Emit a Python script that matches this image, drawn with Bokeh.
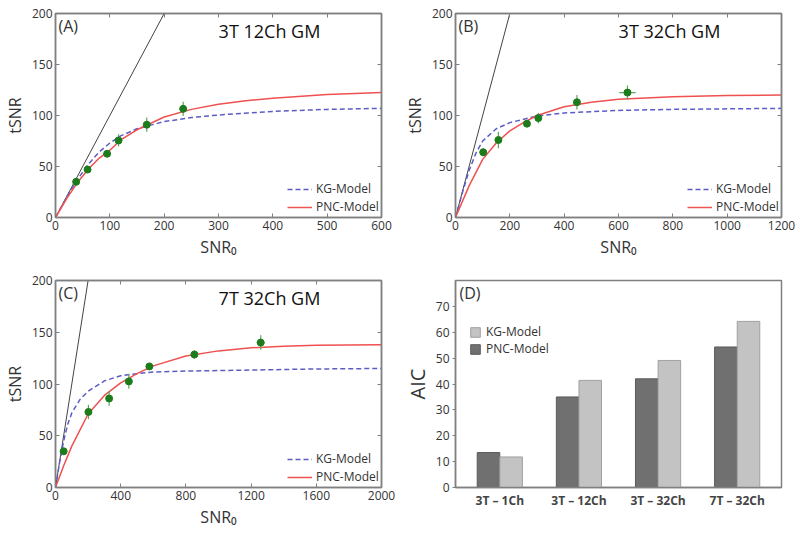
import numpy as np
from bokeh.plotting import figure
from bokeh.layouts import column, row
from bokeh.models import (LinearAxis, FixedTicker, Label, Legend, LegendItem,
                          ColumnDataSource, Range1d, FactorRange, CustomLabelingPolicy)
from bokeh.transform import dodge
from bokeh.embed import file_html
from bokeh.resources import INLINE

FONT = "Open Sans"

# ---------------- data ----------------
ident_x = [0, 200]
ident_y = [0, 200]

# Panel A : 3T 12Ch GM
a_snr0 = [38, 59, 95, 116, 168, 235]
a_tsnr = [35, 47, 62.5, 75.5, 91, 106.5]
a_yerr = [2, 2, 2, 6, 7, 7]
a_xerr = [3, 3, 3, 5, 6, 6]
a_kg_x = [0, 20, 40, 60, 80, 100, 120, 150, 200, 250, 300, 400, 500, 600]
a_kg_y = [0, 19.5, 37, 52, 64, 73, 80, 87, 94, 98, 100.5, 104, 106, 107]
a_pnc_x = [0, 20, 40, 60, 80, 100, 120, 150, 200, 250, 300, 350, 400, 500, 600]
a_pnc_y = [0, 18, 34, 47, 58, 66, 76, 86, 98.5, 106, 111, 114.5, 117, 120.5, 122.5]

# Panel B : 3T 32Ch GM
b_snr0 = [102, 158, 263, 305, 447, 633]
b_tsnr = [64, 76, 92, 97.5, 113, 122.5]
b_yerr = [4, 8, 2, 5, 7, 7]
b_xerr = [8, 8, 6, 8, 10, 30]
b_kg_x = [0, 25, 50, 75, 100, 150, 200, 300, 400, 600, 800, 1000, 1200]
b_kg_y = [0, 24, 46, 63, 75, 87, 93, 99.5, 102.5, 105, 106, 106.5, 107]
b_pnc_x = [0, 50, 100, 150, 200, 250, 300, 400, 500, 600, 800, 1000, 1200]
b_pnc_y = [0, 31, 57, 73, 85, 93, 100, 108.5, 113, 116, 118.5, 119.5, 120]

# Panel C : 7T 32Ch GM
c_snr0 = [50, 202, 329, 450, 576, 852, 1259]
c_tsnr = [35, 73, 86, 102.5, 117, 128.5, 140]
c_yerr = [2, 7, 7, 7, 2, 4, 7]
c_xerr = [10, 20, 15, 15, 20, 20, 25]
c_kg_x = [0, 25, 50, 75, 100, 150, 200, 300, 400, 500, 600, 800, 1200, 1600, 2000]
c_kg_y = [0, 24, 45, 61, 72, 85, 93, 103, 108, 110, 111.5, 112.5, 113.5, 114.5, 115]
c_pnc_x = [0, 50, 100, 200, 300, 400, 500, 600, 800, 1000, 1200, 1400, 1600, 2000]
c_pnc_y = [0, 21, 40, 71, 89, 101, 110, 117.5, 127, 132, 135, 136.5, 137.5, 138]

y_ticks = [0, 50, 100, 150, 200]
a_xticks = [0, 100, 200, 300, 400, 500, 600]
b_xticks = [0, 200, 400, 600, 800, 1000, 1200]
c_xticks = [0, 400, 800, 1200, 1600, 2000]

# Panel D : AIC
d_cats = ["3T \u2013 1Ch", "3T \u2013 12Ch", "3T \u2013 32Ch", "7T \u2013 32Ch"]
d_pnc = [13.5, 35, 42, 54.3]
d_kg = [11.8, 41.4, 49.1, 64.2]
d_yticks = [0, 10, 20, 30, 40, 50, 60, 70]

AXIS_COL = "#808080"
TEXT_COL = "#333333"
KG_COL = "#5c5cc8"
PNC_COL = "#ef5050"
PT_COL = "#1c7c1c"
ERR_COL = "#5aa65a"

NO_LABELS = """
for (const i of indices) { indices.unset(i) }
return indices
"""


def style_axis(ax, show_labels=True):
    ax.axis_line_color = AXIS_COL
    ax.axis_line_width = 1.5
    ax.major_tick_line_color = AXIS_COL
    ax.major_tick_in = 4
    ax.major_tick_out = 0
    ax.minor_tick_line_color = None
    ax.major_label_text_font = FONT
    ax.major_label_text_color = TEXT_COL
    ax.axis_label_text_font = FONT
    ax.axis_label_text_font_style = "normal"
    ax.axis_label_text_color = TEXT_COL
    ax.axis_label_text_font_size = "16px"
    ax.axis_label_standoff = 3
    if show_labels:
        ax.major_label_text_font_size = "12px"
        ax.major_label_standoff = 3
    else:
        ax.major_label_text_font_size = "1px"
        ax.major_label_standoff = 0
        ax.major_label_policy = CustomLabelingPolicy(code=NO_LABELS)


def curve_panel(tag, title, xmax, xticks, xs, ys, yerr, xerr, kgx, kgy, pncx, pncy,
                left, right, top, bottom, height):
    p = figure(width=400, height=height, x_range=Range1d(0, xmax), y_range=Range1d(0, 200),
               output_backend="svg", toolbar_location=None,
               min_border_left=left, min_border_right=right,
               min_border_top=top, min_border_bottom=bottom)
    p.xgrid.grid_line_color = None
    p.ygrid.grid_line_color = None
    p.outline_line_color = AXIS_COL
    p.outline_line_width = 1.5
    p.background_fill_color = "white"

    p.xaxis.ticker = FixedTicker(ticks=xticks)
    p.yaxis.ticker = FixedTicker(ticks=y_ticks)
    p.xaxis.axis_label = "SNR\u2080"
    p.yaxis.axis_label = "tSNR"
    style_axis(p.xaxis[0])
    style_axis(p.yaxis[0])
    ra = LinearAxis(ticker=FixedTicker(ticks=y_ticks))
    ta = LinearAxis(ticker=FixedTicker(ticks=xticks))
    style_axis(ra, False)
    style_axis(ta, False)
    p.add_layout(ra, "right")
    p.add_layout(ta, "above")

    p.line(ident_x, ident_y, color="#444444", line_width=1)
    kg = p.line(kgx, kgy, color=KG_COL, line_width=1.5, line_dash="5 3")
    pnc = p.line(pncx, pncy, color=PNC_COL, line_width=1.5)

    xs_a = np.array(xs, float)
    ys_a = np.array(ys, float)
    ye = np.array(yerr, float)
    xe = np.array(xerr, float)
    p.segment(x0=xs_a, y0=ys_a - ye, x1=xs_a, y1=ys_a + ye, color=ERR_COL, line_width=1.2)
    p.segment(x0=xs_a - xe, y0=ys_a, x1=xs_a + xe, y1=ys_a, color=ERR_COL, line_width=1.2)
    p.scatter(xs_a, ys_a, size=7, color=PT_COL)

    leg = Legend(items=[LegendItem(label="KG-Model", renderers=[kg]),
                        LegendItem(label="PNC-Model", renderers=[pnc])],
                 location=(232, 2))
    leg.border_line_color = None
    leg.background_fill_alpha = 0
    leg.label_text_font = FONT
    leg.label_text_font_size = "12px"
    leg.label_text_color = TEXT_COL
    leg.glyph_width = 25
    leg.glyph_height = 14
    leg.label_height = 14
    leg.label_standoff = 4
    leg.spacing = 1
    leg.padding = 4
    leg.margin = 0
    p.add_layout(leg)

    fh = height - top - bottom
    p.add_layout(Label(x=3, y=fh - 1, x_units="screen", y_units="screen", text=tag,
                       text_font=FONT, text_font_size="16px", text_color=TEXT_COL,
                       text_baseline="top", text_align="left"))
    p.add_layout(Label(x=214, y=fh - 5, x_units="screen", y_units="screen", text=title,
                       text_font=FONT, text_font_size="18px", text_color="#111111",
                       text_baseline="top", text_align="center"))
    return p


pA = curve_panel("(A)", "3T 12Ch GM", 600, a_xticks, a_snr0, a_tsnr, a_yerr, a_xerr,
                 a_kg_x, a_kg_y, a_pnc_x, a_pnc_y, 51, 19, 13, 51, 268)
pB = curve_panel("(B)", "3T 32Ch GM", 1200, b_xticks, b_snr0, b_tsnr, b_yerr, b_xerr,
                 b_kg_x, b_kg_y, b_pnc_x, b_pnc_y, 51, 19, 13, 51, 268)
pC = curve_panel("(C)", "7T 32Ch GM", 2000, c_xticks, c_snr0, c_tsnr, c_yerr, c_xerr,
                 c_kg_x, c_kg_y, c_pnc_x, c_pnc_y, 51, 19, 12, 47, 266)

# ---------------- Panel D ----------------
src = ColumnDataSource(dict(cat=d_cats, pnc=d_pnc, kg=d_kg))
pD = figure(width=400, height=266, x_range=FactorRange(factors=d_cats, range_padding=0.06,
                                                       range_padding_units="absolute"),
            y_range=Range1d(0, 80), output_backend="svg", toolbar_location=None,
            min_border_left=51, min_border_right=19, min_border_top=12, min_border_bottom=47)
pD.xgrid.grid_line_color = None
pD.ygrid.grid_line_color = None
pD.outline_line_color = AXIS_COL
pD.outline_line_width = 1.5
b1 = pD.vbar(x=dodge("cat", -0.143, range=pD.x_range), top="pnc", width=0.285, source=src,
             fill_color="#707070", line_color="#5a5a5a")
b2 = pD.vbar(x=dodge("cat", 0.143, range=pD.x_range), top="kg", width=0.285, source=src,
             fill_color="#c3c3c3", line_color="#a0a0a0")
pD.yaxis.ticker = FixedTicker(ticks=d_yticks)
pD.yaxis.axis_label = "AIC"
style_axis(pD.yaxis[0])
pD.yaxis.major_tick_in = 0
pD.yaxis.major_tick_out = 3
pD.yaxis.axis_label_text_font_size = "20px"
pD.yaxis.axis_label_standoff = 2
style_axis(pD.xaxis[0])
pD.xaxis.major_tick_line_color = None
pD.xaxis.major_label_text_font_style = "bold"
pD.xaxis.major_label_text_color = "#444444"
pD.xaxis.major_label_standoff = 4

legD = Legend(items=[LegendItem(label="KG-Model", renderers=[b2]),
                     LegendItem(label="PNC-Model", renderers=[b1])],
              location=(14, 130))
legD.border_line_color = None
legD.background_fill_alpha = 0
legD.label_text_font = FONT
legD.label_text_font_size = "12px"
legD.label_text_color = TEXT_COL
legD.glyph_width = 12
legD.glyph_height = 12
legD.label_height = 12
legD.label_standoff = 5
legD.spacing = 0
legD.padding = 0
legD.margin = 0
pD.add_layout(legD)
pD.add_layout(Label(x=4, y=207 - 1, x_units="screen", y_units="screen", text="(D)",
                    text_font=FONT, text_font_size="16px", text_color=TEXT_COL,
                    text_baseline="top", text_align="left"))

layout = column(row(pA, pB), row(pC, pD))

with open("out.html", "w") as f:
    f.write(file_html(layout, INLINE))
